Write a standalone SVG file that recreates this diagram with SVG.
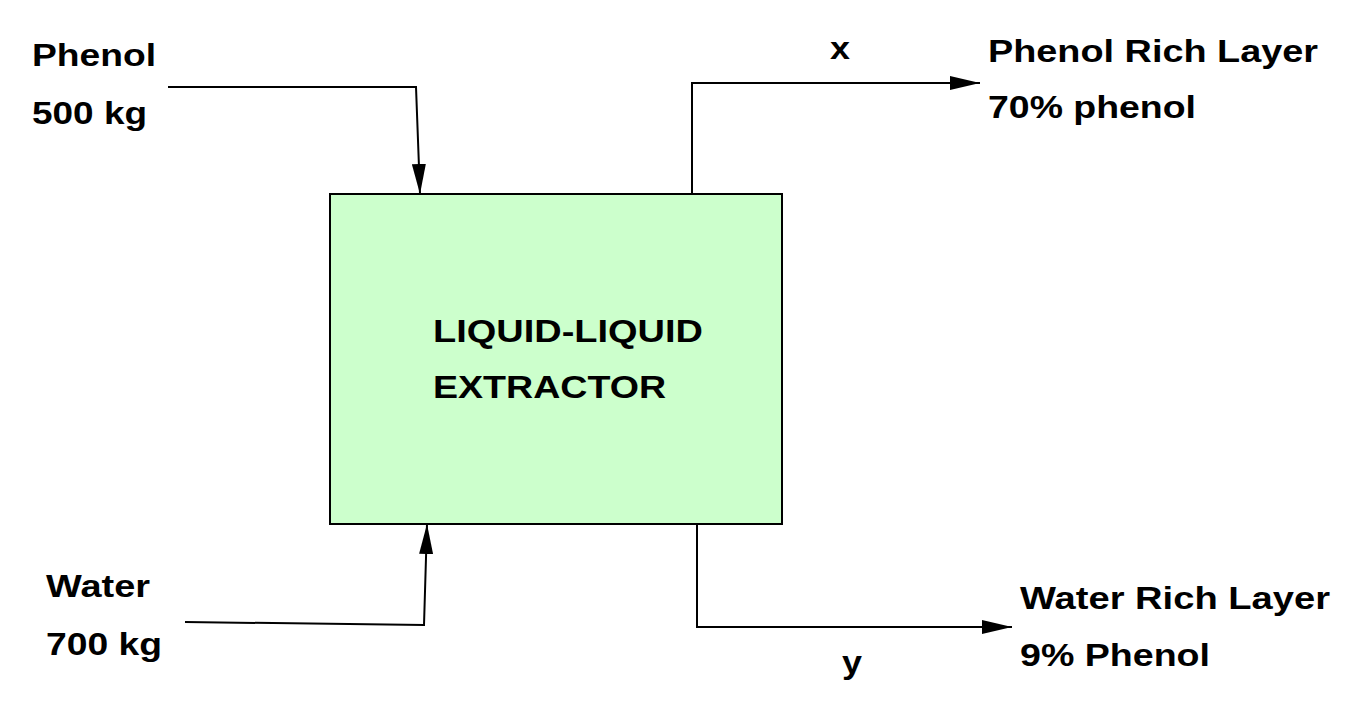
<svg xmlns="http://www.w3.org/2000/svg" width="1365" height="708" viewBox="0 0 1365 708">
<style>
text{font-family:"Liberation Sans",Arial,sans-serif;font-weight:bold;font-size:31px;fill:#000}
.c{fill:none;stroke:#000;stroke-width:2}
</style>
<defs>
<marker id="b" viewBox="0 0 30 14" refX="30" refY="7" markerWidth="30" markerHeight="14" markerUnits="userSpaceOnUse" orient="auto"><path d="M0,0L30,7L0,14z"/></marker></defs>
<rect width="1365" height="708" fill="#fff"/>
<g id="extractor"><rect x="330" y="194" width="452" height="330" fill="#ccffcc" stroke="#000" stroke-width="2"/>
<text x="433" y="342" textLength="270" lengthAdjust="spacingAndGlyphs">LIQUID-LIQUID</text><text x="433" y="398" textLength="233" lengthAdjust="spacingAndGlyphs">EXTRACTOR</text></g>
<g id="phenol"><text x="32" y="66" textLength="124" lengthAdjust="spacingAndGlyphs">Phenol</text><text x="32" y="124" textLength="115" lengthAdjust="spacingAndGlyphs">500 kg</text></g>
<g id="water"><text x="46" y="597" textLength="104" lengthAdjust="spacingAndGlyphs">Water</text><text x="46" y="655" textLength="116" lengthAdjust="spacingAndGlyphs">700 kg</text></g>
<g id="prl"><text x="988" y="62" textLength="330" lengthAdjust="spacingAndGlyphs">Phenol Rich Layer</text><text x="988" y="118" textLength="208" lengthAdjust="spacingAndGlyphs">70% phenol</text></g>
<g id="wrl"><text x="1020" y="609" textLength="310" lengthAdjust="spacingAndGlyphs">Water Rich Layer</text><text x="1020" y="666" textLength="190" lengthAdjust="spacingAndGlyphs">9% Phenol</text></g>
<g id="connectors">
<polyline class="c" points="168,87 416,87 420,194" marker-end="url(#b)"/>
<polyline class="c" points="185,622 424,625 427,524" marker-end="url(#b)"/>
<polyline class="c" points="692,194 692,83 980,83" marker-end="url(#b)"/>
<polyline class="c" points="697,524 697,627 1012,627" marker-end="url(#b)"/>
<text x="830" y="59" textLength="20" lengthAdjust="spacingAndGlyphs">x</text><text x="842" y="673" textLength="20" lengthAdjust="spacingAndGlyphs">y</text>
</g>
</svg>
